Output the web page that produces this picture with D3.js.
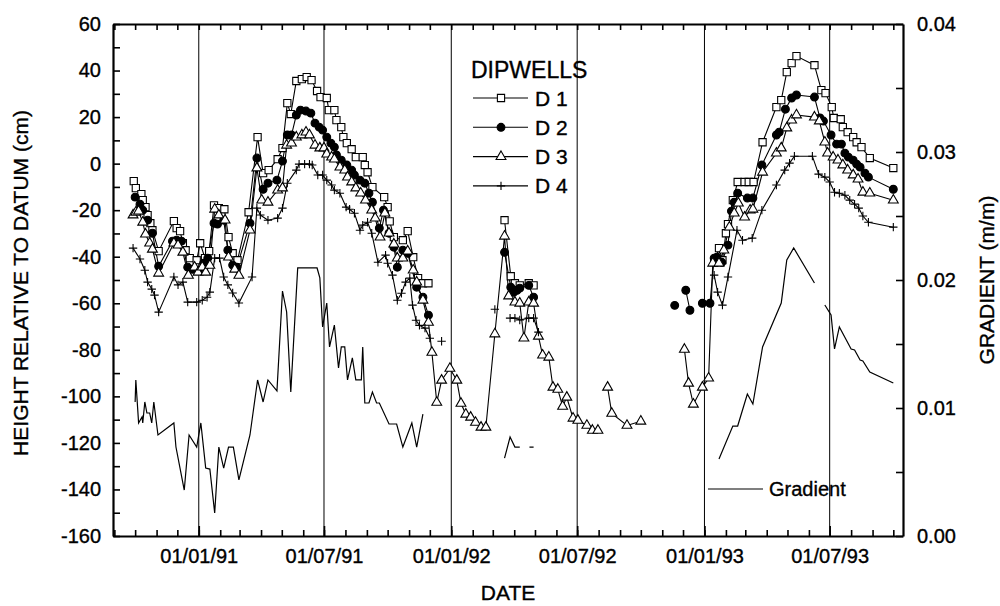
<!DOCTYPE html>
<html><head><meta charset="utf-8">
<script src="https://cdn.jsdelivr.net/npm/d3@7"></script>
<style>
body{margin:0;background:#fff}
svg{display:block}
text{font-family:"Liberation Sans",Arial,Helvetica,sans-serif;fill:#000;stroke:#000;stroke-width:0.35px}
</style>
</head><body>
<svg id="chart" width="1000" height="606"></svg>
<script>
// ---- DATA (date, height cm); null marks a gap in the record ----
const D1 = [
["1990-09-29",-7.5],["1990-10-02",-10.5],["1990-10-10",-13.1],["1990-10-12",-15.7],["1990-10-16",-18.7],["1990-10-19",-22.1],["1990-10-23",-25.6],["1990-10-26",-28.6],["1990-11-04",-37.6],["1990-11-26",-24.7],["1990-11-30",-27.7],["1990-12-05",-29.0],["1990-12-09",-34.2],["1990-12-13",-37.2],["1990-12-19",-40.6],["1990-12-29",-41.5],["1991-01-03",-34.2],["1991-01-10",-40.6],["1991-01-16",-37.6],["1991-01-23",-17.9],["1991-01-30",-19.1],["1991-02-07",-19.6],["1991-02-13",-31.6],["1991-02-19",-38.5],["1991-02-26",-41.5],["1991-03-14",-20.9],["1991-03-27",11.4],["1991-04-04",-4.1],["1991-04-12",-2.8],["1991-04-25",1.9],["1991-05-02",6.7],["1991-05-09",26.0],["1991-05-14",21.3],["1991-05-22",35.5],["1991-05-30",36.3],["1991-06-06",37.2],["1991-06-13",35.9],["1991-06-21",31.2],["1991-06-26",28.6],["1991-07-05",28.2],["1991-07-08",23.0],["1991-07-16",23.0],["1991-07-19",18.7],["1991-07-26",15.7],["1991-07-29",11.4],["1991-08-03",8.8],["1991-08-10",6.2],["1991-08-16",2.8],["1991-08-26",2.8],["1991-08-29",-0.6],["1991-09-02",-3.7],["1991-09-09",-10.1],["1991-09-26",-14.4],["1991-10-01",-18.7],["1991-10-04",-24.8],["1991-10-10",-31.6],["1991-10-23",-32.9],["1991-10-30",-29.0],["1991-11-07",-40.2],["1991-11-14",-49.2],["1991-11-21",-51.4],["1991-11-29",-51.4],
null,
["1992-03-18",-24.3],["1992-03-27",-48.4],["1992-04-02",-51.4],["1992-04-09",-52.3],["1992-04-22",-51.4],["1992-04-29",-52.3],
null,
["1993-01-15",-42.3],["1993-01-22",-36.3],["1993-01-27",-41.5],["1993-02-01",-29.9],["1993-02-04",-26.0],["1993-02-11",-15.7],["1993-02-18",-7.9],["1993-02-28",-7.9],["1993-03-06",-7.9],["1993-03-13",-7.9],["1993-03-26",9.2],["1993-04-15",24.3],["1993-04-22",27.3],["1993-04-30",39.3],["1993-05-07",43.2],["1993-05-14",46.2],["1993-06-09",42.3],["1993-06-19",31.6],["1993-06-25",30.3],["1993-07-04",24.3],["1993-07-07",19.6],["1993-07-17",19.1],["1993-07-20",15.7],["1993-07-27",13.5],["1993-08-04",11.4],["1993-08-09",9.2],["1993-08-16",7.1],["1993-08-28",2.4],["1993-10-01",-1.9]
];
const D2 = [
["1990-10-01",-14.4],["1990-10-08",-17.4],["1990-10-12",-20.0],["1990-10-19",-24.3],["1990-10-26",-29.9],["1990-11-04",-44.1],["1990-11-24",-33.3],["1990-11-30",-32.9],["1990-12-07",-33.3],["1990-12-16",-44.5],["1990-12-23",-45.4],["1991-01-01",-45.8],["1991-01-08",-42.8],["1991-01-14",-40.6],["1991-01-23",-25.6],["1991-01-28",-26.0],["1991-02-06",-24.3],["1991-02-12",-37.2],["1991-02-19",-43.6],["1991-02-25",-44.5],["1991-03-16",-25.6],["1991-03-26",2.4],["1991-04-04",-11.0],["1991-04-11",-8.4],["1991-04-24",-7.1],["1991-05-02",1.1],["1991-05-09",12.3],["1991-05-15",12.3],["1991-05-22",20.9],["1991-05-28",23.0],["1991-06-05",22.6],["1991-06-12",21.7],["1991-06-18",17.4],["1991-06-24",15.7],["1991-06-29",14.4],["1991-07-05",11.4],["1991-07-11",8.8],["1991-07-16",7.1],["1991-07-19",3.7],["1991-07-26",1.5],["1991-08-03",-0.6],["1991-08-10",-2.8],["1991-08-14",-4.9],["1991-08-22",-7.1],["1991-08-29",-8.4],["1991-09-04",-12.7],["1991-09-09",-16.6],["1991-09-19",-27.7],["1991-09-25",-20.0],["1991-10-03",-29.9],["1991-10-10",-35.9],["1991-10-15",-44.5],["1991-10-23",-37.2],["1991-10-30",-38.5],["1991-11-12",-53.1],["1991-11-21",-57.4],["1991-11-29",-65.1],
null,
["1992-03-18",-38.1],["1992-03-27",-53.1],["1992-03-31",-55.3],["1992-04-05",-54.4],["1992-04-09",-53.5],["1992-04-22",-52.3],["1992-04-29",-57.4],
null,
["1992-11-19",-60.9],
null,
["1992-12-05",-54.4],["1992-12-11",-63.0],
null,
["1992-12-29",-60.0],["1993-01-09",-60.0],["1993-01-15",-40.6],["1993-01-19",-40.2],["1993-01-26",-42.4],["1993-02-04",-35.0],["1993-02-09",-20.4],["1993-02-13",-16.6],["1993-02-18",-12.7],["1993-03-04",-14.8],["1993-03-12",-14.8],["1993-03-25",-0.6],["1993-04-15",12.3],["1993-04-19",13.5],["1993-04-28",23.4],["1993-05-07",28.2],["1993-05-14",29.5],["1993-06-09",28.6],["1993-06-17",19.6],["1993-06-22",18.3],["1993-07-03",12.3],["1993-07-11",8.4],["1993-07-18",8.4],["1993-07-23",4.5],["1993-07-28",2.8],["1993-08-04",1.5],["1993-08-09",-0.2],["1993-08-14",-1.5],["1993-08-21",-4.1],["1993-08-26",-5.8],["1993-10-01",-11.0]
];
const D3 = [
["1990-09-28",-22.1],["1990-10-02",-20.9],["1990-10-06",-20.4],["1990-10-12",-25.2],["1990-10-16",-30.3],["1990-10-22",-34.2],["1990-10-26",-36.8],["1990-11-04",-47.1],["1990-11-26",-34.2],["1990-12-02",-35.0],["1990-12-09",-38.1],["1990-12-17",-48.0],["1990-12-26",-44.5],["1990-12-31",-46.7],["1991-01-06",-44.5],["1991-01-11",-46.7],["1991-01-17",-43.7],["1991-01-24",-19.6],["1991-01-30",-22.1],["1991-02-08",-24.3],["1991-02-13",-40.2],["1991-02-22",-45.4],["1991-02-28",-48.0],["1991-03-16",-28.6],["1991-03-26",-1.9],["1991-04-02",-15.7],["1991-04-11",-16.6],["1991-04-25",-11.4],["1991-05-02",-10.5],["1991-05-08",7.9],["1991-05-15",8.8],["1991-05-22",11.4],["1991-05-30",12.3],["1991-06-05",13.5],["1991-06-10",12.3],["1991-06-18",7.9],["1991-06-25",6.7],["1991-07-01",6.7],["1991-07-05",4.1],["1991-07-12",2.8],["1991-07-16",1.9],["1991-07-24",-1.5],["1991-07-31",-2.8],["1991-08-04",-5.8],["1991-08-10",-7.9],["1991-08-16",-10.5],["1991-08-23",-12.7],["1991-08-30",-15.7],["1991-09-08",-20.0],["1991-09-13",-23.4],["1991-09-20",-31.6],["1991-09-27",-21.3],["1991-10-03",-29.9],["1991-10-10",-34.6],["1991-10-15",-40.6],["1991-10-23",-40.6],["1991-10-30",-37.6],["1991-11-07",-45.8],["1991-11-12",-50.9],["1991-11-21",-58.7],["1991-11-29",-68.2],["1991-12-04",-81.1],["1991-12-11",-102.6],["1991-12-18",-93.1],["1991-12-30",-88.0],["1992-01-09",-93.1],["1992-01-15",-103.0],["1992-01-22",-107.7],["1992-01-29",-109.0],["1992-02-05",-111.2],["1992-02-13",-113.3],["1992-02-20",-113.3],["1992-03-04",-73.2],["1992-03-18",-31.2],["1992-03-24",-56.9],["1992-04-02",-59.5],["1992-04-09",-60.0],["1992-04-15",-75.0],["1992-04-22",-59.5],["1992-04-29",-60.0],["1992-05-06",-74.2],["1992-05-12",-82.3],["1992-05-21",-83.2],["1992-05-27",-96.1],["1992-06-03",-97.0],["1992-06-10",-104.3],["1992-06-16",-100.4],["1992-06-25",-109.4],["1992-07-02",-110.3],["1992-07-15",-112.5],["1992-07-23",-114.6],["1992-07-31",-114.6],
null,
["1992-08-14",-96.1],["1992-08-20",-107.3],["1992-09-11",-112.5],["1992-10-01",-110.7],
null,
["1992-12-03",-79.8],["1992-12-09",-94.4],["1992-12-16",-103.4],["1992-12-29",-96.1],["1993-01-07",-92.2],["1993-01-13",-42.8],["1993-01-22",-42.8],["1993-01-29",-37.2],["1993-02-06",-27.3],["1993-02-13",-21.3],["1993-02-19",-17.0],["1993-02-28",-23.0],["1993-03-08",-20.0],["1993-03-12",-19.6],["1993-03-26",-3.7],["1993-04-15",4.5],["1993-04-22",6.7],["1993-04-30",15.3],["1993-05-07",18.7],["1993-05-14",20.9],["1993-06-09",20.0],["1993-06-16",18.3],["1993-06-24",9.2],["1993-06-28",4.5],["1993-07-06",2.8],["1993-07-13",1.5],["1993-07-20",-0.6],["1993-07-27",-2.8],["1993-08-04",-4.9],["1993-08-11",-6.7],["1993-08-18",-12.3],["1993-08-28",-12.7],["1993-10-01",-15.7]
];
const D4 = [
["1990-09-28",-36.3],["1990-10-08",-41.0],["1990-10-15",-45.8],["1990-10-19",-50.9],["1990-10-25",-53.9],["1990-10-29",-56.5],["1990-11-04",-63.8],["1990-11-26",-48.7],["1990-12-02",-52.1],["1990-12-09",-50.9],["1990-12-16",-59.5],["1990-12-29",-59.5],["1991-01-06",-58.7],["1991-01-13",-57.4],["1991-01-17",-55.2],["1991-01-24",-40.6],["1991-01-31",-40.6],["1991-02-06",-48.7],["1991-02-12",-52.1],["1991-02-19",-55.6],["1991-02-28",-59.9],["1991-03-19",-48.7],["1991-03-26",-19.1],["1991-03-31",-22.1],["1991-04-11",-24.3],["1991-04-25",-23.4],["1991-05-02",-19.1],["1991-05-09",-8.4],["1991-05-22",-2.8],["1991-05-26",-0.2],["1991-06-03",-0.2],["1991-06-10",-0.2],["1991-06-14",-0.6],["1991-06-22",-4.9],["1991-06-29",-4.9],["1991-07-05",-7.1],["1991-07-12",-9.2],["1991-07-16",-11.4],["1991-07-24",-12.7],["1991-08-02",-18.7],["1991-08-07",-19.6],["1991-08-14",-21.3],["1991-08-22",-28.6],["1991-08-26",-26.4],["1991-09-02",-25.2],["1991-09-08",-29.9],["1991-09-17",-42.4],["1991-09-28",-39.3],["1991-10-01",-42.8],["1991-10-08",-47.9],["1991-10-15",-58.7],["1991-10-21",-55.7],["1991-10-27",-50.9],["1991-11-02",-49.2],["1991-11-06",-60.8],["1991-11-11",-67.3],["1991-11-16",-69.5],["1991-11-24",-70.7],["1991-12-01",-75.0],
null,
["1991-12-18",-76.3],
null,
["1992-03-04",-62.6],
null,
["1992-03-26",-66.4],["1992-04-02",-66.4],["1992-04-09",-67.2],["1992-04-22",-66.4],["1992-04-29",-66.4],["1992-05-06",-72.4],
null,
["1993-01-15",-47.9],["1993-01-20",-55.2],["1993-01-27",-60.8],["1993-02-04",-48.7],["1993-02-17",-28.6],["1993-02-25",-32.9],["1993-03-11",-32.0],["1993-03-25",-20.0],["1993-04-15",-9.2],["1993-04-27",-2.8],["1993-05-04",0.2],["1993-05-11",3.2],["1993-06-06",3.2],["1993-06-15",-4.5],["1993-06-24",-5.8],["1993-07-01",-7.9],["1993-07-08",-12.3],["1993-07-15",-12.7],["1993-07-23",-13.6],["1993-07-30",-15.7],["1993-08-06",-17.4],["1993-08-12",-19.1],["1993-08-18",-22.5],["1993-08-26",-25.2],["1993-10-01",-27.3]
];
// gradient (m/m), right axis
const GRADIENT = [
["1990-10-01",0.01047],["1990-10-02",0.01219],["1990-10-06",0.00883],["1990-10-11",0.00930],["1990-10-12",0.00883],["1990-10-15",0.01047],["1990-10-18",0.00961],["1990-10-22",0.00961],["1990-10-25",0.00883],["1990-10-28",0.01047],["1990-11-03",0.00789],["1990-11-26",0.00883],["1990-11-29",0.00695],["1990-12-11",0.00359],["1990-12-18",0.00789],["1990-12-29",0.00695],["1991-01-04",0.00883],["1991-01-11",0.00531],["1991-01-17",0.00523],["1991-01-24",0.00180],["1991-01-30",0.00695],["1991-02-06",0.00531],["1991-02-13",0.00695],["1991-02-20",0.00695],["1991-02-28",0.00438],["1991-03-16",0.00789],["1991-03-27",0.01219],["1991-04-04",0.01047],["1991-04-11",0.01219],["1991-04-24",0.01133],["1991-05-02",0.01914],["1991-05-08",0.01750],["1991-05-14",0.01125],["1991-05-24",0.02094],["1991-06-21",0.02094],["1991-06-25",0.02016],["1991-06-29",0.01633],["1991-07-05",0.01820],["1991-07-09",0.01477],["1991-07-16",0.01648],["1991-07-22",0.01313],["1991-07-26",0.01477],["1991-07-31",0.01477],["1991-08-04",0.01219],["1991-08-11",0.01391],["1991-08-16",0.01219],["1991-08-24",0.01219],["1991-08-26",0.01477],["1991-08-29",0.01039],["1991-09-04",0.01039],["1991-09-09",0.01125],["1991-09-15",0.01039],["1991-09-19",0.01039],["1991-10-03",0.00875],["1991-10-14",0.00875],["1991-10-23",0.00695],["1991-11-05",0.00883],["1991-11-12",0.00695],["1991-11-21",0.00953],
null,
["1992-03-18",0.00609],["1992-03-26",0.00773],["1992-04-02",0.00695],["1992-04-09",0.00695],
null,
["1992-04-23",0.00695],["1992-04-29",0.00695],
null,
["1993-01-22",0.00602],["1993-02-11",0.00859],["1993-02-18",0.00859],["1993-03-04",0.01109],["1993-03-12",0.01031],["1993-03-26",0.01477],["1993-04-22",0.01820],["1993-04-30",0.02156],["1993-05-10",0.02250],["1993-06-09",0.01977],
null,
["1993-06-24",0.01805],["1993-07-03",0.01727],["1993-07-08",0.01461],["1993-07-15",0.01633],["1993-08-01",0.01461],["1993-08-06",0.01453],["1993-08-14",0.01375],["1993-08-18",0.01367],["1993-08-28",0.01281],["1993-10-01",0.01195]
];
const seriesNames = ["D 1","D 2","D 3","D 4"];
const leftTicks = d3.range(-160, 61, 10);
const leftLabels = [-160,-140,-120,-100,-80,-60,-40,-20,0,20,40,60];
const rightTicks = [0,0.005,0.01,0.015,0.02,0.025,0.03,0.035,0.04];
const rightLabels = [0,0.01,0.02,0.03,0.04];
const dateTicks = ["1991-01-01","1991-07-01","1992-01-01","1992-07-01","1993-01-01","1993-07-01"];
const dateTickLabels = ["01/01/91","01/07/91","01/01/92","01/07/92","01/01/93","01/07/93"];
const dateDomain = ["1990-08-30","1993-10-15"];

// ---- CHART ----
const parse = d3.timeParse("%Y-%m-%d");
const svg = d3.select("#chart");
const L = 113, R = 903, T = 24, B = 536;
const x = d3.scaleTime().domain(dateDomain.map(parse)).range([L, R]);
const y = d3.scaleLinear().domain([-160, 60]).range([B, T]);
const yg = d3.scaleLinear().domain([0, 0.04]).range([B, T]);
const FS = 20;

// grid lines at Jan / Jul
svg.append("g").selectAll("line").data(dateTicks).join("line")
  .attr("x1", d => x(parse(d))).attr("x2", d => x(parse(d)))
  .attr("y1", T).attr("y2", B).attr("stroke", "#000").attr("stroke-width", 1);

const line = d3.line().defined(d => d !== null)
  .x(d => x(parse(d[0]))).y(d => y(d[1]));
const gline = d3.line().defined(d => d !== null)
  .x(d => x(parse(d[0]))).y(d => yg(d[1]));

svg.append("path").datum(GRADIENT).attr("d", gline)
  .attr("fill", "none").attr("stroke", "#000").attr("stroke-width", 1.2);

const plus = {draw(ctx, size){const r = Math.sqrt(size)/2; ctx.moveTo(-r,0); ctx.lineTo(r,0); ctx.moveTo(0,-r); ctx.lineTo(0,r);}};
const styles = [
  {type: d3.symbolSquare, size: 52, fill: "#fff"},
  {type: d3.symbolCircle, size: 48, fill: "#000"},
  {type: d3.symbolTriangle, size: 42, fill: "#fff"},
  {type: plus, size: 70, fill: "none"}
];
const all = [D1, D2, D3, D4];
all.forEach(s => {
  svg.append("path").datum(s).attr("d", line)
    .attr("fill", "none").attr("stroke", "#000").attr("stroke-width", 1.1);
});
all.forEach((s, i) => {
  const st = styles[i];
  const sym = d3.symbol().type(st.type).size(st.size);
  svg.append("g").selectAll("path").data(s.filter(d => d !== null)).join("path")
    .attr("transform", d => `translate(${x(parse(d[0]))},${y(d[1])})`)
    .attr("d", sym).attr("fill", st.fill).attr("stroke", "#000").attr("stroke-width", 1.1);
});

// axes
function styleAxis(g, fs){
  g.selectAll("path.domain").attr("stroke", "#000").attr("stroke-width", 2.2);
  g.selectAll(".tick line").attr("stroke", "#000").attr("stroke-width", 1.6);
  g.selectAll("text").attr("font-size", fs).attr("font-family", null).attr("fill", "#000");
}
svg.append("g").attr("transform", `translate(${L},0)`)
  .call(d3.axisLeft(y).tickValues(leftTicks).tickSize(-7).tickSizeOuter(0).tickPadding(12)
    .tickFormat(d => leftLabels.includes(d) ? d : ""))
  .call(g => styleAxis(g, FS));
svg.append("g").attr("transform", `translate(${R},0)`)
  .call(d3.axisRight(yg).tickValues(rightTicks).tickSize(-7).tickSizeOuter(0).tickPadding(14)
    .tickFormat(d => rightLabels.some(v => Math.abs(v - d) < 1e-9) ? d3.format(".2f")(d) : ""))
  .call(g => styleAxis(g, FS));
svg.append("g").attr("transform", `translate(0,${B})`)
  .call(d3.axisBottom(x).ticks(d3.timeMonth.every(1)).tickSize(-6).tickSizeOuter(0).tickFormat(""))
  .call(g => styleAxis(g, FS));
svg.append("g").attr("transform", `translate(0,${B})`)
  .call(d3.axisBottom(x).tickValues(dateTicks.map(parse)).tickSize(-10).tickSizeOuter(0).tickPadding(13)
    .tickFormat((d, i) => dateTickLabels[i]))
  .call(g => styleAxis(g, FS))
  .call(g => g.select("path.domain").remove());
svg.append("g").attr("transform", `translate(0,${T})`)
  .call(d3.axisTop(x).ticks(d3.timeMonth.every(1)).tickSize(-6).tickSizeOuter(0).tickFormat(""))
  .call(g => styleAxis(g, FS));

// axis titles
svg.append("text").attr("transform", "translate(28,283) rotate(-90)")
  .attr("text-anchor", "middle").attr("font-size", 21).text("HEIGHT RELATIVE TO DATUM (cm)");
svg.append("text").attr("transform", "translate(994,280) rotate(-90)")
  .attr("text-anchor", "middle").attr("font-size", 21).text("GRADIENT (m/m)");
svg.append("text").attr("x", 508).attr("y", 600)
  .attr("text-anchor", "middle").attr("font-size", 21).text("DATE");

// legend
const leg = svg.append("g");
leg.append("text").attr("x", 471).attr("y", 78).attr("font-size", 23).text("DIPWELLS");
seriesNames.forEach((n, i) => {
  const yy = 98 + i * 29.3;
  leg.append("line").attr("x1", 473).attr("x2", 528).attr("y1", yy).attr("y2", yy)
    .attr("stroke", "#000").attr("stroke-width", 1.1);
  const st = styles[i];
  leg.append("path").attr("transform", `translate(501,${yy})`)
    .attr("d", d3.symbol().type(st.type).size(st.size))
    .attr("fill", st.fill).attr("stroke", "#000").attr("stroke-width", 1.1);
  leg.append("text").attr("x", 535).attr("y", yy).attr("dy", "0.36em")
    .attr("font-size", 21).text(n);
});
leg.append("line").attr("x1", 708).attr("x2", 763).attr("y1", 489).attr("y2", 489)
  .attr("stroke", "#000").attr("stroke-width", 1.1);
leg.append("text").attr("x", 769).attr("y", 489).attr("dy", "0.36em")
  .attr("font-size", 20).text("Gradient");
</script>
</body></html>
